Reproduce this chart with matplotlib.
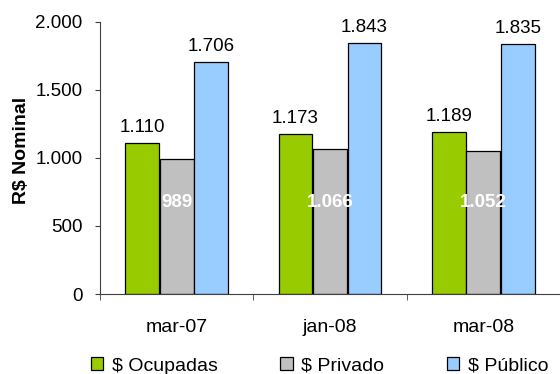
import numpy as np
import matplotlib.pyplot as plt
from matplotlib.patches import Patch

plt.rcParams['font.family'] = ['Liberation Sans', 'DejaVu Sans']

categorias = ['mar-07', 'jan-08', 'mar-08']
series = ['$ Ocupadas', '$ Privado', '$ Público']
ocupadas = [1110, 1173, 1189]
privado = [989, 1066, 1052]
publico = [1706, 1843, 1835]
cores = ['#99CC00', '#C0C0C0', '#99CCFF']

def fmt(v):
    return f'{v:,}'.replace(',', '.')

fig = plt.figure(figsize=(5.6, 3.74), dpi=100)
ax = fig.add_axes([0.1786, 0.2139, 0.8214, 0.7273])

x = np.arange(len(categorias))
w = 0.225
valores = [ocupadas, privado, publico]
for i, (vals, cor) in enumerate(zip(valores, cores)):
    ax.bar(x + (i - 1) * w, vals, w * 0.98, color=cor, edgecolor='black', linewidth=0.9, zorder=2)

# rotulos em cima (ocupadas e publico)
for i in [0, 2]:
    for xi, v in zip(x + (i - 1) * w, valores[i]):
        ax.annotate(fmt(v), (xi, v), xytext=(0, 8), textcoords='offset points',
                    ha='center', va='baseline', fontsize=13.5)
# rotulos dentro das barras do privado
for xi, v in zip(x, privado):
    ax.text(xi, 670, fmt(v), ha='center', va='center', fontsize=13.5,
            color='white', fontweight='bold', zorder=3)

ax.set_xlim(-0.5, 2.5)
ax.set_ylim(0, 2000)
ax.set_yticks([0, 500, 1000, 1500, 2000])
ax.set_yticklabels([fmt(t) for t in [0, 500, 1000, 1500, 2000]], fontsize=13.5)
ax.set_xticks(x)
ax.set_xticklabels(categorias, fontsize=14)
ax.tick_params(axis='x', length=0, pad=18)
ax.set_xticks([-0.5, 0.5, 1.5, 2.5], minor=True)
ax.tick_params(axis='x', which='minor', length=4.5, direction='out', color='#404040')
ax.tick_params(axis='y', length=3.6, direction='out', color='#404040', pad=9)

for s in ['top', 'right']:
    ax.spines[s].set_visible(False)
for s in ['left', 'bottom']:
    ax.spines[s].set_color('#404040')

ax.set_ylabel('R$ Nominal', fontsize=14, fontweight='bold')
ax.yaxis.set_label_coords(-0.153, 0.526)

handles = [Patch(facecolor=c, edgecolor='black', linewidth=0.9) for c in cores]
fig.legend(handles, series, loc='center', bbox_to_anchor=(0.571, 0.0214), ncol=3,
           frameon=False, fontsize=14, handlelength=0.62, handleheight=0.62,
           handletextpad=0.46, columnspacing=3.2, borderpad=0)

fig.savefig('out.png', dpi=100)
